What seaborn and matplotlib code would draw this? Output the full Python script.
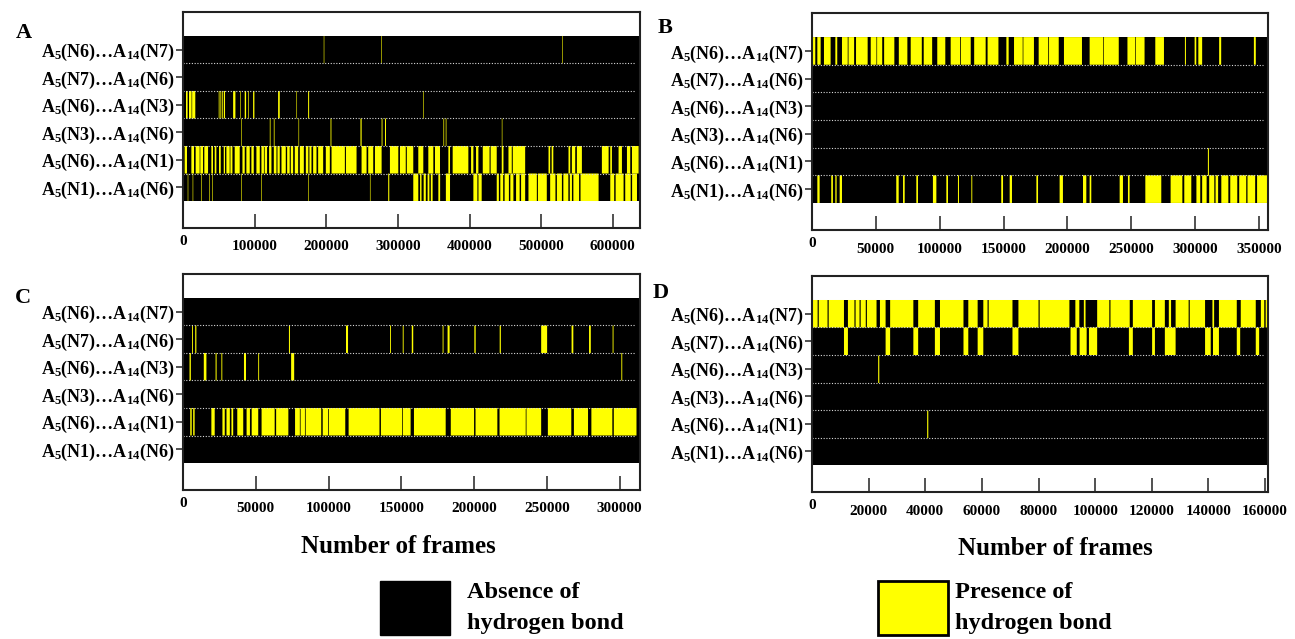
import matplotlib
matplotlib.use('Agg')
import matplotlib.pyplot as plt
import seaborn as sns
from matplotlib.patches import Rectangle

# ---- data: frame intervals (start, end) where the bond is present ----
row_labels = ['A$_5$(N6)…A$_{14}$(N7)', 'A$_5$(N7)…A$_{14}$(N6)', 'A$_5$(N6)…A$_{14}$(N3)',
              'A$_5$(N3)…A$_{14}$(N6)', 'A$_5$(N6)…A$_{14}$(N1)', 'A$_5$(N1)…A$_{14}$(N6)']

frames_a = 638000
ticks_a = [100000, 200000, 300000, 400000, 500000, 600000]
rows_a = [
    [(196500, 197300), (277000, 277800), (529500, 530300)],
    [],
    [(4200, 6500), (8400, 12000), (12800, 17200), (49900, 51000), (51800, 52600), (54100, 55500),
     (57000, 58700), (70000, 73200), (80200, 81000), (86200, 88100), (90900, 91800), (97900, 99700),
     (132800, 135100), (158400, 159200), (174700, 176100), (335500, 336300)],
    [(81300, 82100), (121200, 122200), (126800, 127800), (161300, 162100), (206000, 207200),
     (247800, 249400), (277300, 278500), (282000, 283400), (363600, 364600), (366800, 367800),
     (445100, 445900)],
    [(2300, 5600), (11700, 15400), (17700, 23300), (24200, 28000), (29800, 35000), (39600, 41900),
     (44300, 46600), (50300, 52700), (56900, 58700), (60600, 65200), (66200, 69000), (72200, 79200),
     (83000, 86200), (88500, 93200), (95500, 98800), (102500, 107200), (109500, 113000), (114000, 117400),
     (120200, 123500), (126800, 130500), (131900, 135100), (137500, 143500), (145400, 149000),
     (150500, 153800), (156100, 160800), (163100, 168700), (171500, 175000), (176500, 179400),
     (181700, 186400), (188700, 195700), (199400, 205000), (207400, 226000), (227500, 242300),
     (249300, 256300), (258600, 265600), (268000, 277300), (288900, 300600), (302900, 311000),
     (312500, 321500), (328500, 335500), (342500, 349500), (351800, 358800), (370500, 372800),
     (376500, 398400), (402200, 405400), (409100, 412400), (418500, 428000), (429500, 438000),
     (445000, 447400), (454400, 459000), (460400, 477700), (510300, 512600), (514700, 517000),
     (538200, 540600), (542900, 547600), (549900, 556900), (584800, 594200), (596500, 598800),
     (608100, 612800), (619800, 624400), (626800, 636100)],
    [(6600, 7400), (13500, 14300), (25200, 26000), (36500, 37300), (41000, 41800), (81200, 82000),
     (109500, 110300), (174700, 175500), (261000, 261800), (286500, 288000), (321500, 328500),
     (331000, 333000), (336000, 339000), (341500, 344000), (346000, 348500), (356500, 359000),
     (367000, 372800), (405400, 411000), (412500, 417000), (438000, 441000), (443000, 447000),
     (449000, 455000), (457000, 461300), (465000, 470000), (472000, 477700), (482300, 494000),
     (495500, 507900), (512600, 520000), (522000, 529000), (531000, 538000), (540000, 543000),
     (545000, 553000), (555000, 580200), (596500, 602000), (604000, 615100), (617400, 625000),
     (627000, 633800)],
]

frames_b = 357000
ticks_b = [50000, 100000, 150000, 200000, 250000, 300000, 350000]
rows_b = [
    [(0, 2600), (4200, 6800), (9400, 14600), (18300, 19800), (23500, 28000), (28600, 33000),
     (34500, 43600), (46000, 50500), (51000, 55000), (56500, 64500), (68000, 74700), (77300, 86000),
     (87500, 94100), (98100, 104400), (108600, 116000), (116600, 124300), (127000, 136000),
     (137500, 146000), (152200, 154000), (158200, 165000), (165500, 173800), (177500, 185000),
     (185600, 193200), (197300, 211400), (217400, 228000), (228500, 240200), (247000, 253000),
     (253500, 260400), (268800, 275600), (292000, 292800), (299600, 300900), (302500, 305500),
     (318800, 320400), (346000, 347500)],
    [],
    [],
    [],
    [(309600, 310400)],
    [(4200, 6000), (15100, 16400), (18300, 19300), (21700, 23500), (66000, 67900), (71300, 72600),
     (81700, 83000), (94700, 97400), (105200, 106500), (114300, 115100), (124800, 125500),
     (148200, 149600), (154800, 156600), (175700, 177000), (193900, 196500), (212200, 214800),
     (217400, 218700), (240900, 243500), (247400, 248700), (261000, 273500), (280800, 290000),
     (291500, 297000), (301000, 304000), (305500, 309000), (311000, 315000), (316000, 318000),
     (320500, 326000), (327500, 333000), (334500, 340000), (341000, 347000), (348500, 357000)],
]

frames_c = 314000
ticks_c = [50000, 100000, 150000, 200000, 250000, 300000]
rows_c = [
    [],
    [(6200, 6800), (8400, 9200), (72800, 73500), (112000, 113400), (142300, 142900), (151000, 151600),
     (157200, 158200), (178400, 179000), (181800, 183200), (200200, 201100), (217600, 218400),
     (246100, 250200), (267000, 268200), (279000, 280200), (295200, 295800)],
    [(4500, 5400), (14300, 16100), (22400, 23100), (26400, 27000), (41900, 43300), (51700, 52300),
     (74300, 76400), (301200, 301800)],
    [],
    [(5000, 6000), (7000, 8000), (19500, 21800), (27100, 28700), (29900, 32200), (33300, 34500),
     (37300, 41400), (43700, 46000), (47200, 51700), (54000, 63000), (64000, 72400), (77000, 80300),
     (80800, 83800), (84300, 95000), (96000, 99800), (100300, 111500), (113800, 135000),
     (136000, 150500), (151000, 156400), (158700, 180500), (184000, 200000), (201000, 216000),
     (217500, 235500), (236000, 246100), (250700, 266800), (268600, 278300), (280600, 295000),
     (296000, 311600)],
    [],
]

frames_d = 161000
ticks_d = [20000, 40000, 60000, 80000, 100000, 120000, 140000, 160000]
rows_d = [
    [(0, 2000), (2400, 5500), (5900, 11300), (12700, 15000), (15400, 16800), (17200, 19000),
     (19400, 22800), (24000, 26000), (27600, 35800), (37500, 43400), (45200, 53500), (55200, 58500),
     (60500, 62000), (62400, 70800), (72900, 80000), (80400, 90900), (93000, 94400), (96000, 96600),
     (100700, 105000), (105400, 112200), (113300, 120100), (121100, 124600), (126000, 126800),
     (128400, 133000), (133400, 138800), (141400, 142000), (143700, 150000), (151400, 156700),
     (158500, 159700), (160200, 161000)],
    [(11300, 12700), (26000, 27600), (35800, 37500), (43400, 45200), (53500, 55200), (58500, 60500),
     (70800, 72900), (91300, 93500), (94500, 97000), (97800, 100700), (111900, 113300),
     (120100, 121100), (124600, 128400), (138800, 140800), (141600, 143700), (150000, 151200),
     (156700, 157900)],
    [(23200, 23600)],
    [],
    [(40500, 40900)],
    [],
]

YELLOW = '#ffff00'

sns.set_theme(style='white')
plt.rcParams['font.family'] = ['Liberation Serif', 'DejaVu Serif']
plt.rcParams['font.weight'] = 'bold'
plt.rcParams['text.color'] = 'black'
plt.rcParams['xtick.color'] = 'black'
plt.rcParams['ytick.color'] = 'black'
plt.rcParams['mathtext.fontset'] = 'custom'
plt.rcParams['mathtext.rm'] = 'Liberation Serif:bold'
plt.rcParams['mathtext.bf'] = 'Liberation Serif:bold'
plt.rcParams['mathtext.it'] = 'Liberation Serif:bold'
plt.rcParams['mathtext.default'] = 'bf'

fig = plt.figure(figsize=(12.95, 6.39), dpi=100)

panels = [
    ('A', rows_a, frames_a, ticks_a, [0.1413, 0.6432, 0.3529, 0.338], (0.0185, 0.948)),
    ('B', rows_b, frames_b, ticks_b, [0.6270, 0.6400, 0.3521, 0.3396], (0.5135, 0.956)),
    ('C', rows_c, frames_c, ticks_c, [0.1413, 0.2332, 0.3529, 0.338], (0.0178, 0.534)),
    ('D', rows_d, frames_d, ticks_d, [0.6270, 0.2300, 0.3521, 0.338], (0.5100, 0.541)),
]

for letter, rows, nframes, ticks, rect, lpos in panels:
    ax = fig.add_axes(rect)
    ax.axhspan(-0.5, 5.5, color='black', lw=0)
    for k, spans in enumerate(rows):
        if spans:
            bars = ax.broken_barh([(s, e - s) for s, e in spans], (k - 0.5, 1),
                                  facecolors=YELLOW, linewidth=0)
            bars.set_snap(False)
    for k in range(5):
        ax.axhline(k + 0.5, color='#d8d8d8', lw=0.8, ls=(0, (1, 1.5)), xmax=0.99)

    ax.set_xlim(0, nframes)
    ax.set_ylim(6.48, -1.37)
    ax.set_yticks(range(6))
    ax.set_yticklabels(row_labels, fontsize=13, fontweight='bold')
    ax.set_xticks(ticks)
    ax.set_xticklabels([str(t) for t in ticks], fontsize=11, fontweight='bold')
    ax.tick_params(axis='x', bottom=True, direction='in', length=10, width=1.2, pad=9, color='#333333')
    ax.tick_params(axis='y', left=True, direction='out', length=5, width=1.2, pad=1, color='#333333')
    ax.annotate('0', xy=(0, 0), xycoords=('data', 'axes fraction'), xytext=(0, -5),
                textcoords='offset points', ha='center', va='top', fontsize=11, fontweight='bold')
    for sp in ax.spines.values():
        sp.set_color('#222222')
        sp.set_linewidth(1.5)
    fig.text(lpos[0], lpos[1], letter, fontsize=16, fontweight='bold', ha='center', va='center')

fig.text(0.308, 0.144, 'Number of frames', fontsize=18, fontweight='bold', ha='center', va='center')
fig.text(0.815, 0.142, 'Number of frames', fontsize=18, fontweight='bold', ha='center', va='center')

# legend boxes
fig.patches.append(Rectangle((0.2934, 0.006), 0.054, 0.0845, transform=fig.transFigure,
                             facecolor='black', edgecolor='black', lw=1))
fig.patches.append(Rectangle((0.678, 0.006), 0.054, 0.0845, transform=fig.transFigure,
                             facecolor=YELLOW, edgecolor='black', lw=2))
fig.text(0.3606, 0.072, 'Absence of', fontsize=17.5, fontweight='bold', va='center')
fig.text(0.3606, 0.025, 'hydrogen bond', fontsize=17.5, fontweight='bold', va='center')
fig.text(0.7375, 0.072, 'Presence of', fontsize=17.5, fontweight='bold', va='center')
fig.text(0.7375, 0.025, 'hydrogen bond', fontsize=17.5, fontweight='bold', va='center')

fig.savefig('out.png', dpi=100)
